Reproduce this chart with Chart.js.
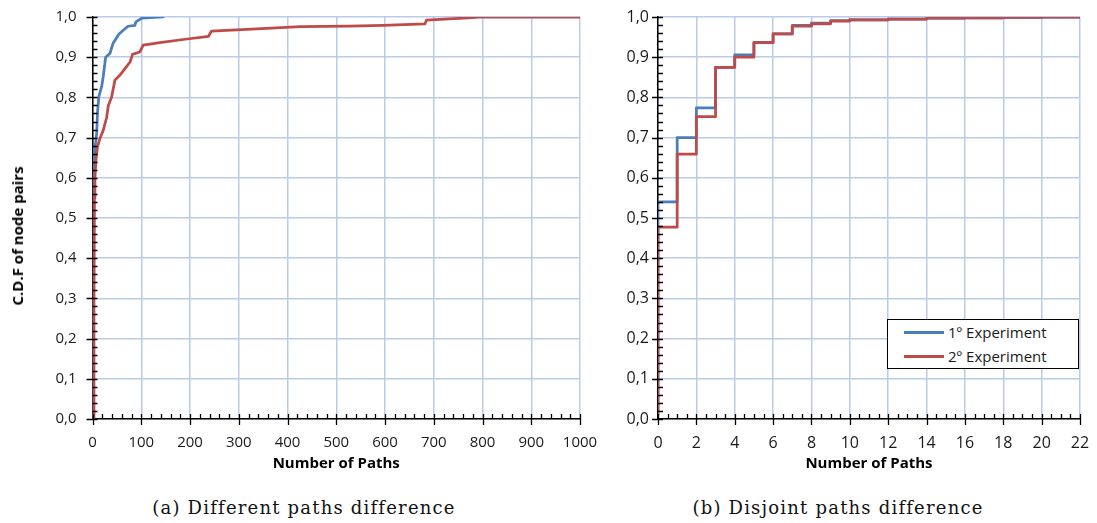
<!DOCTYPE html>
<html>
<head>
<meta charset="utf-8">
<script src="https://cdn.jsdelivr.net/npm/chart.js@4.4.0/dist/chart.umd.min.js"></script>
<style>
  body { margin: 0; background: #fff; width: 1097px; height: 523px; position: relative; overflow: hidden; font-family: 'Open Sans', sans-serif; }
  .panel { position: absolute; top: 0; }
  #left { left: 0; }
  #right { left: 590px; }
  .caption { position: absolute; top: 498px; line-height: 20px; font-family: 'DejaVu Serif', serif; font-size: 18px; letter-spacing: 1.2px; color: #111; transform: translateX(-50%); white-space: nowrap; }
  #ytitle { position: absolute; left: 17px; top: 236px; font-size: 15px; font-weight: bold; color: #000; white-space: nowrap; line-height: 18px; transform: translate(-50%, -50%) rotate(-90deg); }
  #legend { position: absolute; left: 887px; top: 319px; width: 190px; height: 48px; border: 1px solid #000; background: #fff; font-size: 15px; color: #1a1a1a; }
  #legend .row { height: 24px; display: flex; align-items: center; padding-left: 16px; }
  #legend .swatch { width: 40px; height: 3px; margin-right: 4px; }
</style>
</head>
<body>
<canvas id="left" class="panel" width="610" height="480"></canvas>
<canvas id="right" class="panel" width="507" height="480"></canvas>
<div id="ytitle">C.D.F of node pairs</div>
<div class="caption" style="left:304px">(a) Different paths difference</div>
<div class="caption" style="left:838px">(b) Disjoint paths difference</div>
<div id="legend"></div>
<script>
// (a) different paths difference
const diffBlueX = [1, 1.5, 2, 3, 5, 8.5, 10.6, 13, 19, 22, 27, 36, 42, 54, 63, 73, 87, 89, 101, 145];
const diffBlueY = [0, 0.3, 0.5, 0.6, 0.672, 0.71, 0.768, 0.802, 0.828, 0.852, 0.9, 0.91, 0.934, 0.957, 0.967, 0.977, 0.979, 0.988, 0.997, 1.0];
const diffRedX = [2, 3, 4, 5, 7, 10, 15, 22, 29, 32.5, 39, 46, 56, 67, 77, 82, 97, 104, 138, 186, 238, 244, 357, 426, 528, 596, 682, 685, 771, 800, 1000];
const diffRedY = [0, 0.3, 0.55, 0.6, 0.643, 0.676, 0.697, 0.718, 0.75, 0.78, 0.8, 0.843, 0.855, 0.872, 0.888, 0.907, 0.913, 0.93, 0.936, 0.944, 0.952, 0.965, 0.972, 0.976, 0.977, 0.979, 0.983, 0.992, 0.998, 1.0, 1.0];

// (b) disjoint paths difference
const disjointX = [0, 1, 2, 3, 4, 5, 6, 7, 8, 9, 10, 12, 14, 16, 18, 20, 22];
const disjointBlue = [0.016, 0.540, 0.700, 0.774, 0.875, 0.906, 0.937, 0.958, 0.979, 0.985, 0.991, 0.993, 0.995, 0.997, 0.998, 0.999, 1.0];
const disjointRed = [0.011, 0.477, 0.659, 0.752, 0.875, 0.900, 0.936, 0.958, 0.977, 0.983, 0.990, 0.993, 0.995, 0.997, 0.998, 0.999, 1.0];

const seriesNames = ['1º Experiment', '2º Experiment'];
const seriesColors = ['#4a7ebb', '#be4b48'];

const toPoints = (xs, ys) => xs.map((x, i) => ({ x: x, y: ys[i] }));

const titleFont = { family: 'Open Sans', size: 15, weight: 'bold' };
const gridColor = '#b9cbe8';

// small inward ticks between the major ones, crossing ticks on the majors
const minorTicks = {
    id: 'minorTicks',
    afterDraw(chart, args, opts) {
        const { ctx, chartArea, scales: { x, y } } = chart;
        ctx.save();
        ctx.strokeStyle = '#000';
        ctx.lineWidth = 1.3;
        ctx.beginPath();
        let n = Math.round((y.max - y.min) / opts.yMinor);
        let every = Math.round(opts.yMajor / opts.yMinor);
        for (let i = 0; i <= n; i++) {
            const py = Math.round(y.getPixelForValue(y.min + i * opts.yMinor)) + 0.5;
            const major = i % every === 0;
            ctx.moveTo(chartArea.left - (major ? 6 : 0), py);
            ctx.lineTo(chartArea.left + 5, py);
        }
        n = Math.round((x.max - x.min) / opts.xMinor);
        every = Math.round(opts.xMajor / opts.xMinor);
        for (let i = 0; i <= n; i++) {
            const px = Math.round(x.getPixelForValue(x.min + i * opts.xMinor)) + 0.5;
            const major = i % every === 0;
            ctx.moveTo(px, chartArea.bottom - 5);
            ctx.lineTo(px, chartArea.bottom + (major ? 6 : 0));
        }
        ctx.stroke();
        ctx.restore();
    }
};

const lineStyle = (i) => ({
    label: seriesNames[i],
    borderColor: seriesColors[i],
    backgroundColor: seriesColors[i],
    borderWidth: 2.75,
    pointRadius: 0,
    fill: false,
    borderCapStyle: 'round',
    borderJoinStyle: 'round',
    order: i === 0 ? 1 : 0
});

// the layout padding alone decides where the plot area sits
const noScalePadding = (s) => { s.paddingTop = 0; s.paddingBottom = 0; s.paddingLeft = 0; s.paddingRight = 0; };

const makeChart = (id, datasets, cfg) => new Chart(document.getElementById(id), {
    type: 'line',
    data: { datasets: datasets },
    plugins: [minorTicks],
    options: {
        responsive: false,
        animation: false,
        layout: { padding: { top: 17, right: cfg.padRight, left: 0, bottom: 0 } },
        plugins: {
            legend: { display: false },
            tooltip: { enabled: false },
            minorTicks: cfg.minor
        },
        scales: {
            x: {
                type: 'linear',
                min: cfg.xMin, max: cfg.xMax,
                ticks: { stepSize: cfg.xStep, font: { family: 'Open Sans', size: cfg.fontSize }, color: '#1a1a1a',
                         padding: 15, maxRotation: 0, callback: (v) => String(v) },
                grid: { color: gridColor, lineWidth: 1.5, drawTicks: false },
                border: { color: '#000', width: 1.5 },
                title: { display: true, text: 'Number of Paths', font: titleFont, color: '#000', padding: { top: 0, bottom: 7 } },
                afterFit: (s) => { s.height = 61; noScalePadding(s); }
            },
            y: {
                min: 0, max: 1,
                ticks: {
                    stepSize: 0.1, font: { family: 'Open Sans', size: cfg.fontSize }, color: '#1a1a1a', padding: cfg.yPad,
                    callback: (v) => v.toFixed(1).replace('.', ',')
                },
                grid: { color: gridColor, lineWidth: 1.5, drawTicks: false },
                border: { color: '#000', width: 1.5 },
                afterFit: (s) => { s.width = cfg.yWidth; noScalePadding(s); }
            }
        }
    }
});

const leftChart = makeChart('left', [
    Object.assign(lineStyle(0), { data: toPoints(diffBlueX, diffBlueY) }),
    Object.assign(lineStyle(1), { data: toPoints(diffRedX, diffRedY) })
], { xMin: 0, xMax: 1000, xStep: 100, padRight: 30, yWidth: 92.5, yPad: 16, fontSize: 15,
     minor: { xMinor: 20, xMajor: 100, yMinor: 0.02, yMajor: 0.1 } });

const rightChart = makeChart('right', [
    Object.assign(lineStyle(0), { data: toPoints(disjointX, disjointBlue), stepped: 'after' }),
    Object.assign(lineStyle(1), { data: toPoints(disjointX, disjointRed), stepped: 'after' })
], { xMin: 0, xMax: 22, xStep: 2, padRight: 17, yWidth: 68, yPad: 9, fontSize: 16,
     minor: { xMinor: 0.5, xMajor: 2, yMinor: 0.02, yMajor: 0.1 } });

// legend box inside the right plot
const legend = document.getElementById('legend');
rightChart.data.datasets.forEach(ds => {
    const row = document.createElement('div');
    row.className = 'row';
    row.innerHTML = `<span class="swatch" style="background:${ds.borderColor}"></span><span>${ds.label}</span>`;
    legend.appendChild(row);
});
</script>
</body>
</html>
